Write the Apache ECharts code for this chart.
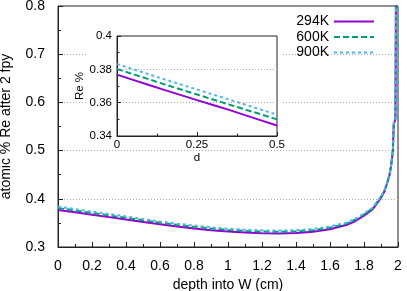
<!DOCTYPE html>
<html>
<head>
<meta charset="utf-8">
<script src="https://cdn.jsdelivr.net/npm/echarts@6/dist/echarts.min.js"></script>
<style>
html,body{margin:0;padding:0;background:#fff;}
#c{width:407px;height:291px;}
</style>
</head>
<body>
<div id="c"></div>
<script>
// Main plot: depth into W (cm)
var depth = [0, 0.1, 0.2, 0.3, 0.4, 0.5, 0.6, 0.7, 0.8, 0.9, 1.0, 1.1, 1.2, 1.3, 1.4, 1.5, 1.6, 1.7, 1.75, 1.8, 1.85, 1.9, 1.92, 1.94, 1.95, 1.96, 1.97, 1.975, 1.985, 1.99];
var re294 = [0.377, 0.372, 0.367, 0.362, 0.357, 0.352, 0.347, 0.3425, 0.3385, 0.335, 0.332, 0.330, 0.3285, 0.328, 0.329, 0.3315, 0.337, 0.346, 0.354, 0.365, 0.378, 0.402, 0.415, 0.437, 0.449, 0.470, 0.500, 0.555, 0.565, 1.0];
var re600 = [0.381, 0.3755, 0.3705, 0.3655, 0.3605, 0.3555, 0.3505, 0.346, 0.342, 0.3385, 0.3355, 0.3335, 0.332, 0.3315, 0.3325, 0.335, 0.340, 0.349, 0.357, 0.3675, 0.380, 0.404, 0.4165, 0.438, 0.450, 0.471, 0.501, 0.556, 0.566, 1.0];
var re900 = [0.384, 0.3785, 0.3735, 0.3685, 0.3635, 0.358, 0.353, 0.3485, 0.3445, 0.341, 0.338, 0.336, 0.3345, 0.334, 0.335, 0.3375, 0.3425, 0.351, 0.359, 0.3695, 0.3815, 0.405, 0.4175, 0.439, 0.451, 0.472, 0.502, 0.557, 0.567, 1.0];

// Inset: d vs Re %
var insetD = [0, 0.05, 0.1, 0.15, 0.2, 0.25, 0.3, 0.35, 0.4, 0.45, 0.5];
var inset294 = [0.3768, 0.3737, 0.3706, 0.3675, 0.3645, 0.3615, 0.3586, 0.3557, 0.3525, 0.3494, 0.3463];
var inset600 = [0.3802, 0.3771, 0.3740, 0.3709, 0.3679, 0.3649, 0.3619, 0.3589, 0.3559, 0.3530, 0.3500];
var inset900 = [0.3832, 0.3801, 0.3770, 0.3739, 0.3709, 0.3679, 0.3649, 0.3619, 0.3589, 0.3558, 0.3528];

var seriesNames = ['294K', '600K', '900K'];
var colors = ['#9400D3', '#009E73', '#56B4E9'];
var dashes = ['solid', [6, 3], [3, 3]];

function pairs(xs, ys) { return xs.map(function (x, i) { return [x, ys[i]]; }); }

var FONT = 'Liberation Sans, Arial, sans-serif';
var AX = '#222';

var mainData = [re294, re600, re900];
var insetData = [inset294, inset600, inset900];

var series = [];
for (var k = 0; k < 3; k++) {
  series.push({
    name: seriesNames[k], type: 'line', xAxisIndex: 0, yAxisIndex: 0,
    data: pairs(depth, mainData[k]), symbol: 'none', clip: true, z: 2 + k,
    lineStyle: { color: colors[k], width: 2, type: dashes[k] }, itemStyle: { color: colors[k] }
  });
}
for (var k = 0; k < 3; k++) {
  series.push({
    name: seriesNames[k], type: 'line', xAxisIndex: 1, yAxisIndex: 1,
    data: pairs(insetD, insetData[k]), symbol: 'none', clip: true, z: 6 + k,
    lineStyle: { color: colors[k], width: 2, type: dashes[k] }, itemStyle: { color: colors[k] }
  });
}

var chart = echarts.init(document.getElementById('c'), null, { renderer: 'canvas' });
chart.setOption({
  animation: false,
  backgroundColor: '#fff',
  textStyle: { fontFamily: FONT },
  grid: [
    { left: 58, top: 6, width: 340, height: 241, show: true, borderColor: AX, borderWidth: 1, backgroundColor: 'transparent', outerBoundsMode: 'none', containLabel: false },
    { left: 117, top: 36, width: 160, height: 100, show: true, borderColor: AX, borderWidth: 1, backgroundColor: 'transparent', z: 3, outerBoundsMode: 'none', containLabel: false }
  ],
  graphic: [{
    type: 'rect', z: 1, silent: true,
    shape: { x: 86, y: 20, width: 195, height: 128 },
    style: { fill: '#fff' }
  }],
  legend: {
    orient: 'vertical', right: 27, top: 9.5, align: 'right',
    itemWidth: 40, itemHeight: 14, itemGap: 1.5,
    data: seriesNames,
    itemStyle: { opacity: 0 },
    textStyle: { fontSize: 14, color: '#000', fontFamily: FONT }
  },
  xAxis: [
    {
      gridIndex: 0, type: 'value', min: 0, max: 2, interval: 0.2,
      name: 'depth into W (cm)', nameLocation: 'middle', nameGap: 24,
      nameTextStyle: { fontSize: 14, color: '#000', fontFamily: FONT },
      axisLine: { show: true, lineStyle: { color: AX, width: 1 } },
      axisTick: { show: true, inside: true, length: 5, lineStyle: { color: AX } },
      minorTick: { show: true, splitNumber: 2, length: 3, lineStyle: { color: AX } },
      axisLabel: { fontSize: 14, color: '#000', margin: 12, fontFamily: FONT },
      splitLine: { show: false }
    },
    {
      gridIndex: 1, type: 'value', min: 0, max: 0.5, interval: 0.25, z: 3,
      name: 'd', nameLocation: 'middle', nameGap: 11,
      nameTextStyle: { fontSize: 11.5, color: '#000', fontFamily: FONT },
      axisLine: { show: true, lineStyle: { color: AX, width: 1 } },
      axisTick: { show: true, inside: true, length: 4, lineStyle: { color: AX } },
      minorTick: { show: true, splitNumber: 2, length: 2.5, lineStyle: { color: AX } },
      axisLabel: { fontSize: 11.5, color: '#000', margin: 3, fontFamily: FONT },
      splitLine: { show: false }
    }
  ],
  yAxis: [
    {
      gridIndex: 0, type: 'value', min: 0.3, max: 0.8, interval: 0.1,
      name: 'atomic % Re after 2 fpy', nameLocation: 'middle', nameGap: 45,
      nameTextStyle: { fontSize: 14, color: '#000', fontFamily: FONT },
      axisLine: { show: true, lineStyle: { color: AX, width: 1 } },
      axisTick: { show: true, inside: true, length: 5, lineStyle: { color: AX } },
      minorTick: { show: true, splitNumber: 2, length: 3, lineStyle: { color: AX } },
      axisLabel: { fontSize: 14, color: '#000', margin: 13, fontFamily: FONT },
      splitLine: { show: true, showMinLine: false, showMaxLine: false, lineStyle: { color: '#aaa', type: [1, 2], width: 1 } }
    },
    {
      gridIndex: 1, type: 'value', min: 0.34, max: 0.4, interval: 0.02, z: 3,
      name: 'Re %', nameLocation: 'middle', nameGap: 27,
      nameTextStyle: { fontSize: 11.5, color: '#000', fontFamily: FONT },
      axisLine: { show: true, lineStyle: { color: AX, width: 1 } },
      axisTick: { show: true, inside: true, length: 4, lineStyle: { color: AX } },
      minorTick: { show: true, splitNumber: 2, length: 2.5, lineStyle: { color: AX } },
      axisLabel: { fontSize: 11.5, color: '#000', margin: 5, fontFamily: FONT },
      splitLine: { show: true, showMinLine: false, showMaxLine: false, lineStyle: { color: '#aaa', type: [1, 2], width: 1 } }
    }
  ],
  series: series
});
</script>
</body>
</html>
